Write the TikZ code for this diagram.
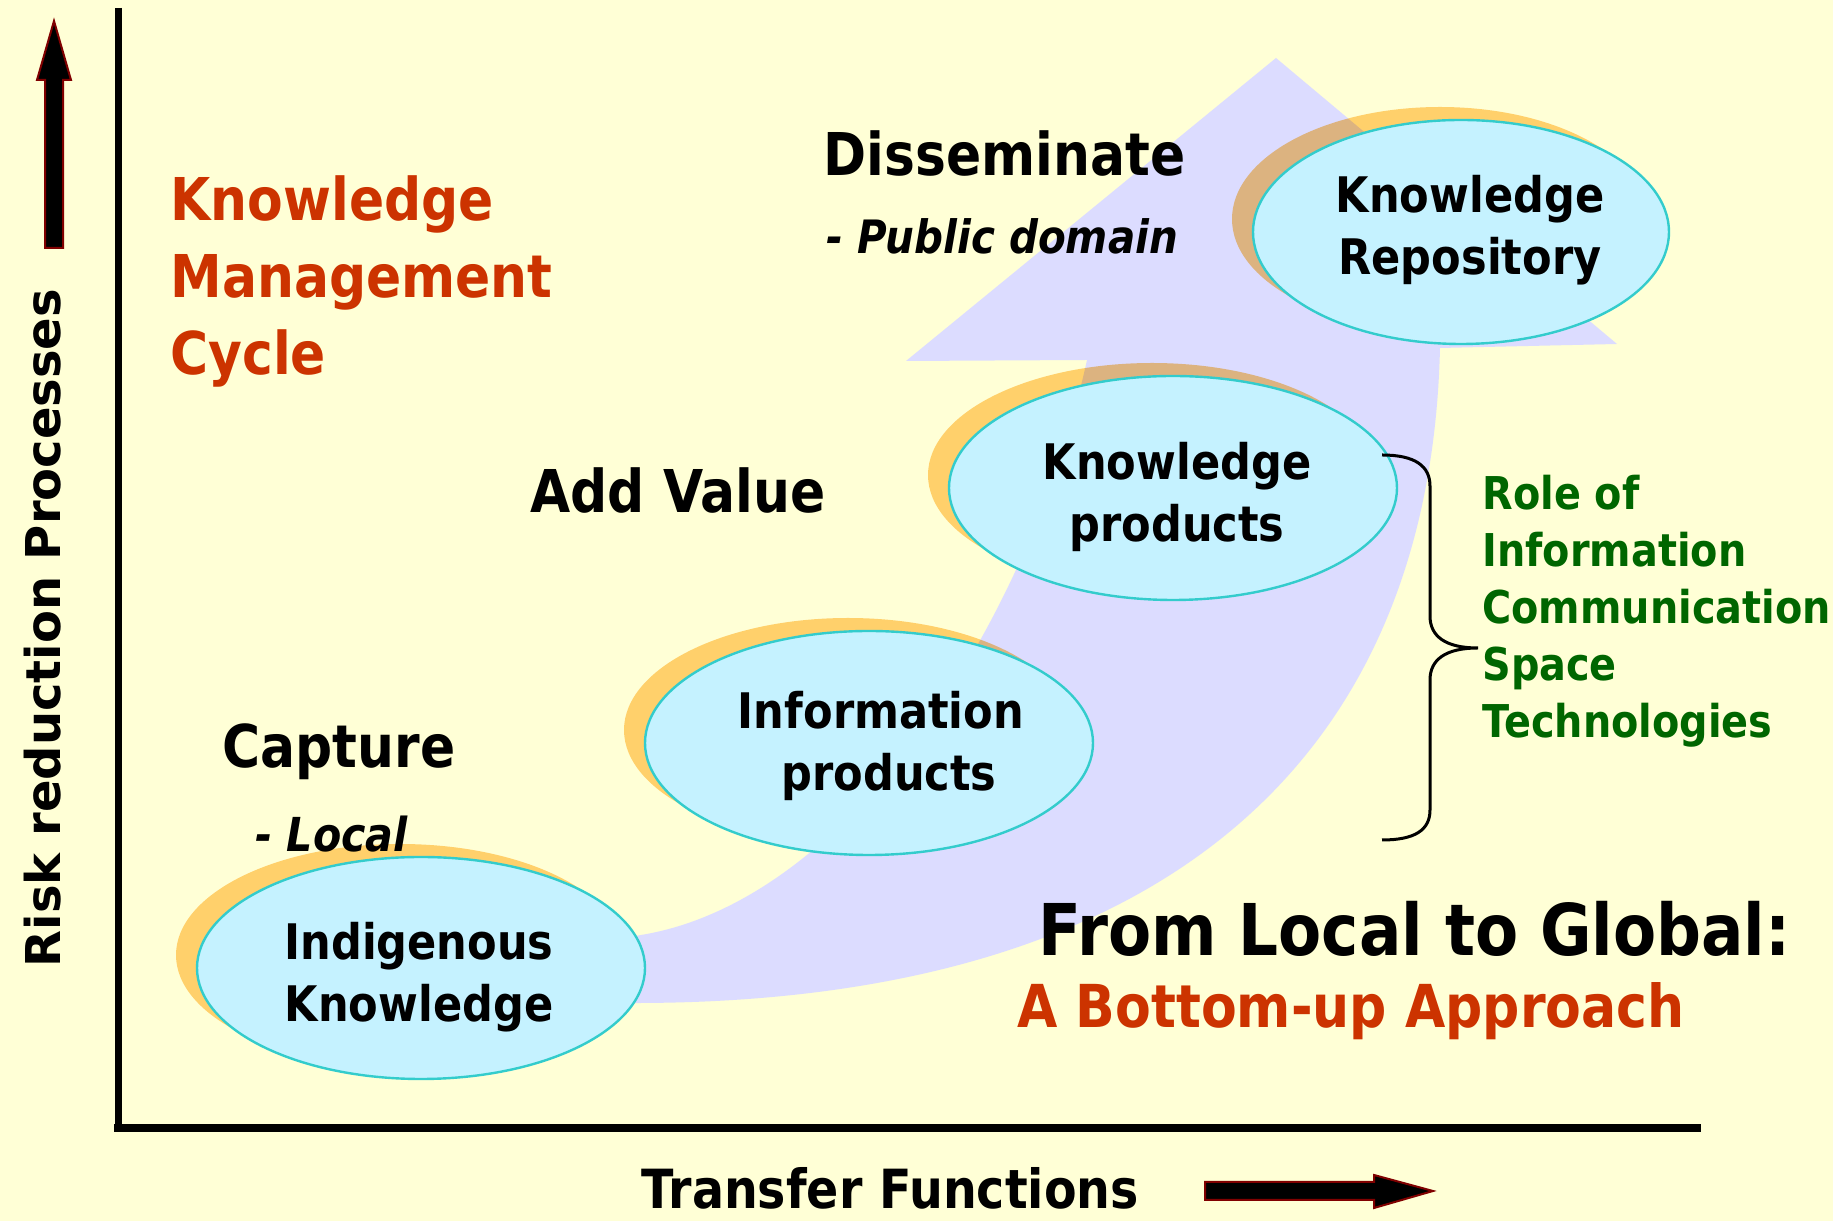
\documentclass[tikz,border=0pt]{standalone}
\usepackage{fontspec}
\setmainfont{DejaVu Sans}[FakeStretch=0.88]
\newfontfamily\widefont{DejaVu Sans}
\usetikzlibrary{shapes.geometric}
\usetikzlibrary{shadows}
\newcommand\fsz[2]{\fontsize{#1}{#2}\selectfont}

\definecolor{kmback}{RGB}{255,255,214}
\definecolor{kmlav}{RGB}{220,220,255}
\definecolor{kmcyan}{RGB}{197,242,255}
\definecolor{kmedge}{RGB}{51,204,204}
\definecolor{kmshade}{RGB}{255,208,128}
\definecolor{kmred}{RGB}{204,51,0}
\definecolor{kmgreen}{RGB}{0,102,0}
\definecolor{kmdark}{RGB}{128,0,0}

\tikzset{
  stage/.style={ellipse, draw=kmedge, line width=1.2pt, fill=kmcyan, inner sep=0pt,
    minimum width=224pt, minimum height=112pt,
    drop shadow={shadow xshift=-10.5pt, shadow yshift=6.5pt, fill=kmshade, opacity=1, blend mode=multiply}},
  stagetext/.style={inner sep=0pt, align=center, font=\bfseries\fsz{24.5pt}{31pt}},
  heading/.style={anchor=west, inner sep=0pt, font=\bfseries\fsz{29.5pt}{38.5pt}},
  remark/.style={anchor=west, inner sep=0pt, font=\bfseries\itshape\fsz{23pt}{28pt}},
}

\begin{document}
\begin{tikzpicture}[x=0.5pt, y=0.5pt]

\useasboundingbox (0,0) rectangle (1833,1221);
\fill[kmback] (0,0) rectangle (1833,1221);

\fill[kmlav] (1276,1163) -- (1617,877) -- (1440,873) .. controls (1430,450) and (1150,220) .. (641,218)
  -- (560,216) -- (560,271) -- (641,286) .. controls (850,320) and (1030,600) .. (1087,861) -- (906,860) -- cycle;

\draw[line width=3.5pt] (118,1213) -- (118,89);
\draw[line width=4pt] (114,93) -- (1701,93);

\filldraw[fill=black, draw=kmdark, line width=1pt] (45,973) -- (45,1141) -- (37,1141) -- (54,1200) -- (71,1141) -- (63,1141) -- (63,973) -- cycle;
\filldraw[fill=black, draw=kmdark, line width=1pt] (1205,21) -- (1205,39) -- (1374,39) -- (1374,46) -- (1433,30) -- (1374,13) -- (1374,21) -- cycle;

\node[stage, minimum height=111pt] (ik) at (421,253) {};
\node[stage] (ip) at (869,478) {};
\node[stage] (kp) at (1173,733) {};
\node[stage, minimum width=208pt] (kr) at (1461,989) {};
\node[stagetext] (iktext) at ([shift={(-2,-9)}]ik.center) {Indigenous\\Knowledge};
\node[stagetext] (iptext) at ([shift={(12,-3)}]ip.center) {Information\\\hspace*{8pt}products};
\node[stagetext] (kptext) at ([shift={(4,-9)}]kp.center) {Knowledge\\products};
\node[stagetext] (krtext) at ([shift={(9,2)}]kr.center) {Knowledge\\Repository};

\node[heading, align=left, text=kmred] (title) at (170,940) {Knowledge\\Management\\Cycle};
\node[heading] (dissem) at (823,1067) {Disseminate};
\node[remark] (pubdom) at (826,985) {- Public domain};
\node[heading] (addval) at (530,730) {Add Value};
\node[heading] (capt) at (222,469) {Capture};
\node[remark, font=\bfseries\itshape\fsz{23.4pt}{28pt}] (local) at (255,387) {- Local};

\draw[line width=1.5pt] (1382,766) .. controls (1415,766) and (1430,755) .. (1430,735) -- (1430,605)
  .. controls (1430,585) and (1445,573) .. (1478,573) .. controls (1445,573) and (1430,561) .. (1430,541)
  -- (1430,411) .. controls (1430,391) and (1415,381) .. (1382,381);
\node[anchor=west, inner sep=0pt, align=left, text=kmgreen, font=\bfseries\fsz{22.6pt}{28.5pt}] (role) at (1482,610)
  {Role of\\Information\\Communication\\Space\\Technologies};

\node[anchor=west, inner sep=0pt, font=\bfseries\fsz{35.7pt}{40pt}] (fromlg) at (1038,292) {From Local to Global:};
\node[anchor=west, inner sep=0pt, text=kmred, font=\bfseries\fsz{29.6pt}{36pt}] (bottomup) at (1017,210) {A Bottom-up Approach};

\node[anchor=base west, inner sep=0pt, font=\bfseries\fsz{27pt}{32pt}] (xlabel) at (641,12) {Transfer Functions};
\node[anchor=base, rotate=90, inner sep=0pt, font=\widefont\bfseries\fsz{24pt}{28pt}] (ylabel) at (61,593) {Risk reduction Processes};

\end{tikzpicture}
\end{document}
